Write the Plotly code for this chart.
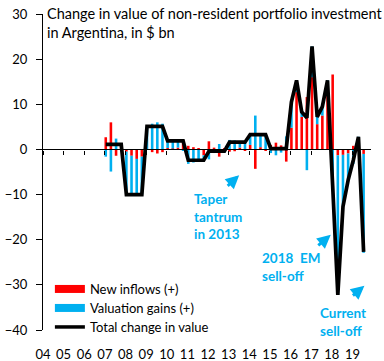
import plotly.graph_objects as go

# ---------------- data ----------------
quarters = [f"{y}Q{q}" for y in range(2007, 2020) for q in range(1, 5)][:51]

new_inflows = [
    2.7, 6.0, -1.4, 1.3,      # 2007
    -0.5, -1.4, -2.1, -1.6,   # 2008
    0.0, -0.6, -0.9, -0.6,    # 2009
    0.3, 0.2, 0.4, 2.1,       # 2010
    0.8, 0.5, 0.3, -1.3,      # 2011
    1.8, 0.4, -1.6, 0.3,      # 2012
    -0.5, -0.4, 0.4, -0.2,    # 2013
    1.0, -4.3, 0.5, -0.3,     # 2014
    1.0, 1.5, 0.9, -2.7,      # 2015
    4.8, 12.7, 7.2, 11.6,     # 2016
    16.0, 5.6, 7.5, 12.9,     # 2017
    16.6, -1.3, -1.2, -0.9,   # 2018
    0.8, 0.9, -1.0,           # 2019
]

valuation_gains = [
    -1.6, -4.9, 2.4, -0.2,
    -9.5, -8.6, -7.9, -8.4,
    5.1, 5.7, 6.0, 5.7,
    1.6, 1.7, 1.5, -0.2,
    -3.2, -2.9, -2.7, -1.1,
    -2.2, -0.8, 1.2, -0.7,
    2.1, 2.0, 1.2, 1.8,
    2.3, 7.5, 2.8, 3.5,
    -0.8, -1.3, -0.7, 2.9,
    5.7, 2.6, 1.1, -4.6,
    6.8, 1.6, 2.0, 2.4,
    -8.2, -30.9, -11.5, -5.9,
    -3.2, 1.9, -21.9,
]

total_change = [
    1.1, 1.1, 1.0, 1.1,
    -10.0, -10.0, -10.0, -10.0,
    5.1, 5.1, 5.1, 5.1,
    1.9, 1.9, 1.9, 1.9,
    -2.4, -2.4, -2.4, -2.4,
    -0.4, -0.4, -0.4, -0.4,
    1.6, 1.6, 1.6, 1.6,
    3.3, 3.3, 3.3, 3.3,
    0.2, 0.2, 0.2, 0.2,
    10.5, 15.3, 8.3, 7.0,
    22.8, 7.2, 9.5, 15.3,
    -8.0, -32.2, -12.7, -6.8,
    -2.4, 2.8, -22.7,
]

year_ticks = list(range(2004, 2020))
year_labels = [f"{y % 100:02d}" for y in year_ticks]

# quarter -> numeric time (middle of first month of the quarter)
def qpos(s):
    y, q = s.split("Q")
    return int(y) + (3 * (int(q) - 1) + 0.5) / 12

x = [qpos(s) for s in quarters]

RED = "#FF0000"
BLUE = "#00B0F0"
FONT = "Lato"
XR = [2004, 2019.9]

fig = go.Figure()
fig.add_trace(go.Bar(x=x, y=new_inflows, marker_color=RED, width=0.125,
                     marker_line_width=0, showlegend=False, name="New inflows (+)"))
fig.add_trace(go.Bar(x=x, y=valuation_gains, marker_color=BLUE, width=0.125,
                     marker_line_width=0, showlegend=False, name="Valuation gains (+)"))
fig.add_trace(go.Scatter(x=x, y=total_change, mode="lines", showlegend=False,
                         line=dict(color="black", width=3.7)))
# legend entries (one small legend each, so rows can be spaced like the original)
fig.add_trace(go.Scatter(x=[None], y=[None], mode="lines", name="New inflows (+)",
                         line=dict(color=RED, width=8), legend="legend"))
fig.add_trace(go.Scatter(x=[None], y=[None], mode="lines", name="Valuation gains (+)",
                         line=dict(color=BLUE, width=8), legend="legend2"))
fig.add_trace(go.Scatter(x=[None], y=[None], mode="lines", name="Total change in value",
                         line=dict(color="black", width=3.5), legend="legend3"))
fig.add_trace(go.Scatter(x=[None], y=[None], xaxis="x2", showlegend=False))

leg_common = dict(x=0.021, xanchor="left", yanchor="middle",
                  bgcolor="rgba(0,0,0,0)", font=dict(size=13), itemwidth=30,
                  borderwidth=0)

fig.update_layout(
    width=384, height=361,
    margin=dict(l=43, r=13, t=14, b=31, autoexpand=False),
    paper_bgcolor="white", plot_bgcolor="white",
    barmode="relative",
    font=dict(family=FONT, size=13, color="black"),
    xaxis=dict(range=XR, tickvals=year_ticks, ticktext=year_labels,
               showline=False, ticks="outside", ticklen=12, tickcolor="rgba(0,0,0,0)",
               showgrid=False, zeroline=False, automargin=False,
               tickfont=dict(size=13)),
    xaxis2=dict(overlaying="x", anchor="free", position=40 / 70, range=XR,
                showline=True, linecolor="black", linewidth=1.3, ticks="outside",
                ticklen=4, tickcolor="black", tickvals=year_ticks,
                showticklabels=False, showgrid=False, zeroline=False,
                automargin=False),
    yaxis=dict(range=[-40, 30], dtick=10, showline=True, linecolor="black",
               linewidth=1.3, ticks="outside", ticklen=6, tickcolor="black",
               showgrid=False, zeroline=False, automargin=False,
               ticklabelstandoff=6, tickfont=dict(size=13)),
    legend=dict(y=(330 - 289) / 316, **leg_common),
    legend2=dict(y=(330 - 308) / 316, **leg_common),
    legend3=dict(y=(330 - 327) / 316, **leg_common),
    showlegend=True,
)

# title
fig.add_annotation(xref="paper", yref="paper", x=0.006, y=1.035, xanchor="left",
                   yanchor="top", align="left", showarrow=False,
                   text="Change in value of non-resident portfolio investment<br>in Argentina, in $ bn",
                   font=dict(size=14.5, color="black"))

ann_font = dict(size=13.5, color=BLUE, family=FONT + " Bold, " + FONT)
for txt, tx, ty in [("<b>Taper<br>tantrum<br>in 2013</b>", 2011.22, -14.8),
                    ("<b>2018  EM<br>sell-off</b>", 2014.52, -26.0),
                    ("<b>Current<br>sell-off</b>", 2017.33, -38.2)]:
    fig.add_annotation(x=tx, y=ty, xref="x", yref="y", text=txt, showarrow=False,
                       xanchor="left", yanchor="middle", align="left", font=ann_font)

for hx, hy, ax, ay in [(2013.51, -5.7, -13, 12),
                       (2017.95, -18.9, -14, 12),
                       (2019.58, -30.2, -13, 11)]:
    fig.add_annotation(x=hx, y=hy, xref="x", yref="y", text="", showarrow=True,
                       ax=ax, ay=ay, arrowcolor=BLUE, arrowwidth=3, arrowhead=2,
                       arrowsize=0.9, standoff=0)

fig.write_html("out.html", config={"displayModeBar": False},
               post_script="document.body.style.margin='0';")
